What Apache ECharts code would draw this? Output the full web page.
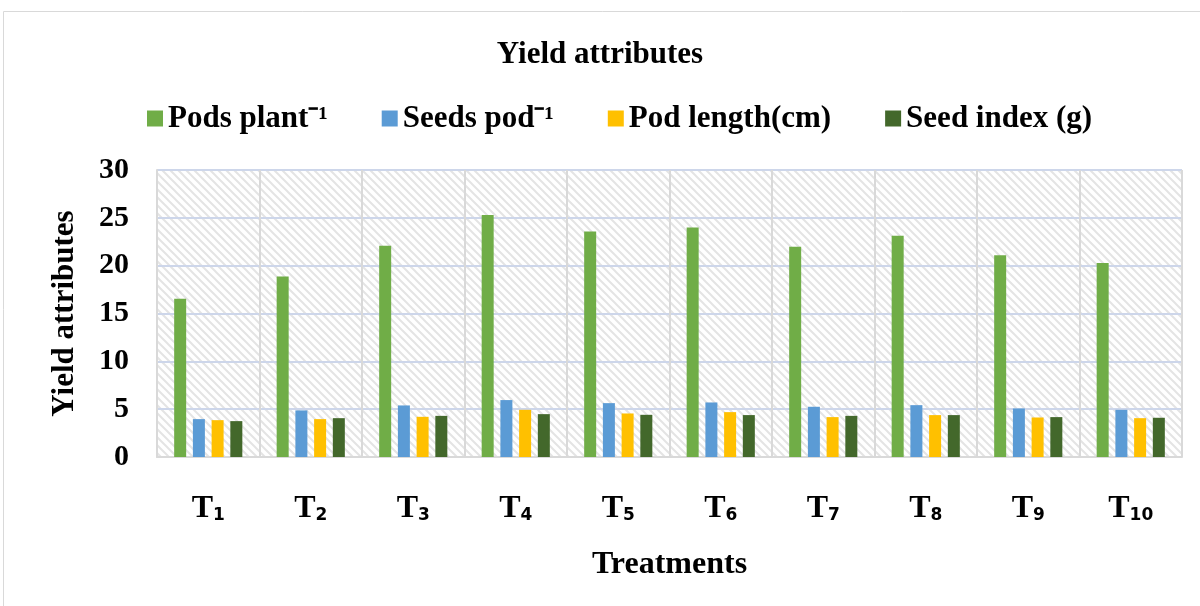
<!DOCTYPE html>
<html><head><meta charset="utf-8">
<script src="https://cdn.jsdelivr.net/npm/echarts@6/dist/echarts.min.js"></script>
<style>html,body{margin:0;padding:0;background:#fff}#c{width:1200px;height:606px}</style>
</head><body><div id="c"></div>
<script>
var categories = ['T1','T2','T3','T4','T5','T6','T7','T8','T9','T10'];
var podsPlant = [16.55, 18.87, 22.08, 25.29, 23.58, 24.0, 21.97, 23.12, 21.1, 20.29];
var seedsPod = [3.96, 4.87, 5.39, 5.95, 5.63, 5.7, 5.25, 5.42, 5.07, 4.93];
var podLength = [3.85, 3.96, 4.2, 4.93, 4.55, 4.69, 4.17, 4.38, 4.13, 4.06];
var seedIndex = [3.75, 4.06, 4.3, 4.48, 4.41, 4.38, 4.3, 4.38, 4.17, 4.1];
var seriesNames = ['Pods plant\u207B\u00B9', 'Seeds pod\u207B\u00B9', 'Pod length(cm)', 'Seed index (g)'];
var colors = ['#70ad47', '#5b9bd5', '#ffc000', '#43682b'];

var pc = document.createElement('canvas');
pc.width = 8; pc.height = 8;
var g = pc.getContext('2d');
g.fillStyle = '#ffffff'; g.fillRect(0,0,8,8);
g.strokeStyle = '#e4e4e4'; g.lineWidth = 2;
g.beginPath();
g.moveTo(-2,-2); g.lineTo(10,10);
g.moveTo(-6,2); g.lineTo(2,10);
g.moveTo(6,-2); g.lineTo(10,2);
g.stroke();

var serif = '"Liberation Serif", "Times New Roman", serif';
var chart = echarts.init(document.getElementById('c'));
var vals = [podsPlant, seedsPod, podLength, seedIndex];
var series = vals.map(function(d, i){
  return {name: seriesNames[i], type: 'bar', data: d, barWidth: 12, barGap: '56%',
    itemStyle: {color: colors[i]}};
});
chart.setOption({
  animation: false,
  color: colors,
  title: {text: 'Yield attributes', left: 'center', top: 34,
    textStyle: {fontFamily: serif, fontWeight: 'bold', fontSize: 31, color: '#000'}},
  legend: {top: 98, left: 142, itemWidth: 16, itemHeight: 16, itemGap: 54,
    icon: 'rect',
    textStyle: {fontFamily: serif, fontWeight: 'bold', fontSize: 31, color: '#000'}},
  grid: {left: 157, right: 18, top: 170, bottom: 149},
  graphic: [{type: 'rect', shape: {x: 3.5, y: 11.5, width: 1200, height: 620},
    style: {fill: 'none', stroke: '#d9d9d9', lineWidth: 1}, z: -10}],
  xAxis: {type: 'category', data: categories,
    name: 'Treatments', nameLocation: 'middle', nameGap: 92,
    nameTextStyle: {fontFamily: serif, fontWeight: 'bold', fontSize: 32, color: '#000'},
    axisLine: {lineStyle: {color: '#d9d9d9', width: 2}},
    axisTick: {show: false},
    splitLine: {show: true, lineStyle: {color: '#d9d9d9', width: 2}},
    axisLabel: {margin: 36, formatter: function(v){ return '{t|T}{s|' + v.slice(1) + '}'; },
      rich: {t: {fontFamily: serif, fontWeight: 'bold', fontSize: 32, color: '#000'},
             s: {fontFamily: '"DejaVu Sans", sans-serif', fontWeight: 'bold', fontSize: 17, color: '#000', padding: [14,0,0,0]}}}
  },
  yAxis: {type: 'value', min: 0, max: 30, interval: 5,
    name: 'Yield attributes', nameLocation: 'middle', nameGap: 77, nameRotate: 90,
    nameTextStyle: {fontFamily: serif, fontWeight: 'bold', fontSize: 31, color: '#000'},
    axisLine: {show: true, lineStyle: {color: '#d9d9d9', width: 2}},
    axisLabel: {margin: 28, fontFamily: serif, fontWeight: 'bold', fontSize: 30, color: '#000'},
    splitLine: {lineStyle: {color: '#cdd6ea', width: 2}},
    splitArea: {show: true, areaStyle: {color: [{image: pc, repeat: 'repeat'}]}}
  },
  series: series
});
</script></body></html>
